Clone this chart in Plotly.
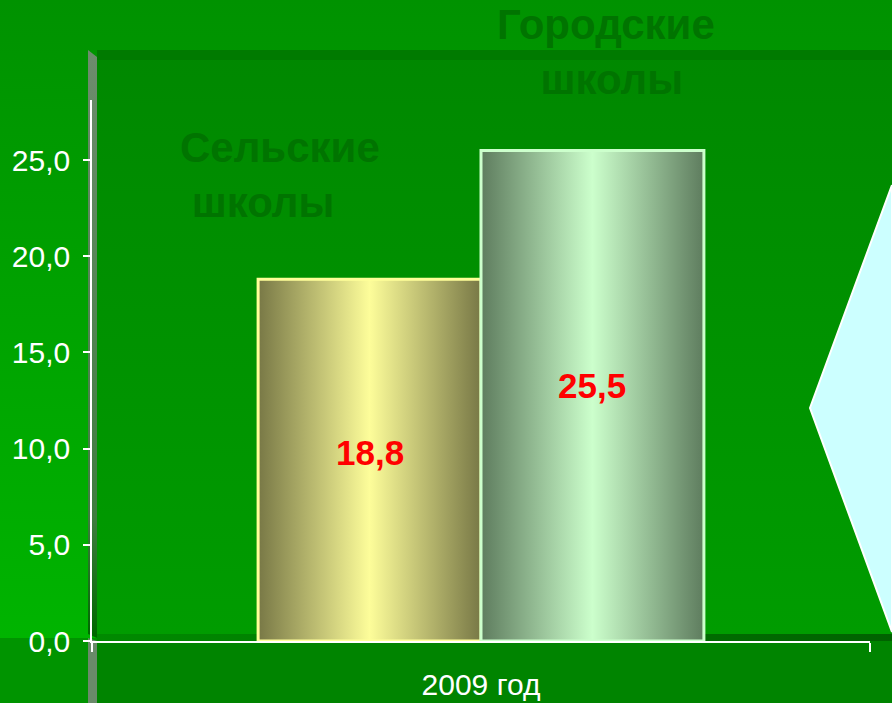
import plotly.graph_objects as go

# --- data ---
categories = ["Сельские школы", "Городские школы"]
values = [18.8, 25.5]
period = "2009 год"
y_ticks = [0, 5, 10, 15, 20, 25]

# --- styling ---
bar_edge = ["#787846", "#5e7c5e"]
bar_mid = ["#fdfd9a", "#ccffcc"]
bar_line = ["#ffff99", "#ccffcc"]
FONT = "Liberation Sans, Arial, sans-serif"

W, H = 892, 703
fig = go.Figure()


def deco(xs, ys, color=None, grad=None, line=None):
    # background pieces live on a pixel-sized axis pair (x, y)
    fig.add_trace(go.Scatter(
        x=xs, y=ys, xaxis="x", yaxis="y", mode="lines",
        fill="toself", fillcolor=color, fillgradient=grad,
        line=line or dict(width=0), hoverinfo="skip", showlegend=False,
    ))


# outer background
deco([0, W, W, 0, 0], [0, 0, 638, 638, 0],
     grad=dict(type="vertical", colorscale=[[0, "#009200"], [1, "#00b400"]], start=0, stop=638))
deco([0, W, W, 0, 0], [638, 638, H, H, 638], color="#009400")
# back wall
deco([97, W, W, 97, 97], [50, 50, 641, 641, 50],
     grad=dict(type="vertical", colorscale=[[0, "#008800"], [1, "#009c00"]], start=50, stop=634))
deco([97, W, W, 97, 97], [50, 50, 60, 60, 50], color="#007a00")
deco([97, W, W, 97, 97], [634, 634, 641, 641, 634],
     grad=dict(type="horizontal", colorscale=[[0, "#008a00"], [1, "#006200"]], start=97, stop=W))
# floor
deco([96, W, W, 96, 96], [641, 641, H, H, 641], color="#008400")
# left side wall
deco([88, 97, 97, 88, 88], [50, 57, 638, 634, 50],
     grad=dict(type="vertical", colorscale=[[0, "#6e8c6e"], [0.8, "#3f7c3f"], [1, "#006800"]], start=50, stop=634))
deco([88, 97, 97, 88, 88], [638, 641, H, H, 638], color="#6a8a6a")
# arrow shape on the right
deco([W, 810, W, W], [185, 408, 632, 185], color="#ccffff",
     line=dict(color="white", width=2))

# --- bars ---
gap = 0.427
w = (1 - gap) / len(values)
for i, (cat, v) in enumerate(zip(categories, values)):
    l = -(1 - gap) / 2 + i * w
    r = l + w
    fig.add_trace(go.Scatter(
        x=[l, l, r, r, l], y=[0, v, v, 0, 0], xaxis="x2", yaxis="y2",
        mode="lines", fill="toself",
        fillgradient=dict(type="horizontal", start=l, stop=r,
                          colorscale=[[0, bar_edge[i]], [0.5, bar_mid[i]], [1, bar_edge[i]]]),
        line=dict(color=bar_line[i], width=3), name=cat, showlegend=False,
    ))
    fig.add_annotation(
        x=(l + r) / 2, y=v * 0.52, xref="x2", yref="y2", showarrow=False,
        text=f"{v:.1f}".replace(".", ","),
        font=dict(family=FONT, size=35, color="#ff0000", weight="bold"),
    )

# category captions (left-aligned one, centered one, as on the slide)
cap_pos = [(280, 175, "left"), (606, 52, "center")]
for cat, (px, py, al) in zip(categories, cap_pos):
    first, second = cat.split(" ")
    fig.add_annotation(
        x=px / W, y=1 - py / H, xref="paper", yref="paper", showarrow=False,
        xanchor="center", yanchor="middle",
        text=f"{first}<br>&nbsp;{second}", align=al,
        font=dict(family=FONT, size=42, color="#007400", weight="bold"),
    )

fig.update_layout(
    width=W, height=H, margin=dict(l=0, r=0, t=0, b=0),
    paper_bgcolor="#009400", plot_bgcolor="rgba(0,0,0,0)",
    separators=", ", font=dict(family=FONT),
    xaxis=dict(domain=[0, 1], range=[0, W], visible=False, fixedrange=True, automargin=False),
    yaxis=dict(domain=[0, 1], range=[H, 0], visible=False, fixedrange=True, automargin=False),
    xaxis2=dict(
        domain=[92 / W, 870 / W], range=[-0.5, 0.5], anchor="y2", automargin=False,
        showline=True, linecolor="white", linewidth=1.5, showgrid=False, zeroline=False,
        tickvals=[0], ticktext=[period], ticks="",
        minor=dict(tickvals=[-0.5, 0.5], ticks="outside", ticklen=9, tickcolor="white", tickwidth=1.5),
        tickfont=dict(size=30, color="white"), ticklabelstandoff=16,
    ),
    yaxis2=dict(
        domain=[(H - 641) / H, (H - 100) / H], range=[0, 28.12], anchor="x2", automargin=False,
        showline=True, linecolor="white", linewidth=1.5, showgrid=False, zeroline=False,
        tickvals=y_ticks, tickformat=".1f", ticks="outside", ticklen=7,
        tickcolor="white", tickwidth=1.5,
        tickfont=dict(size=30, color="white"), ticklabelstandoff=7,
    ),
)

# page margin off so the figure fills the window
fix_page = (
    "document.body.style.margin='0';document.body.style.overflow='hidden';"
    "Plotly.relayout(document.getElementById('{plot_id}'), {width: 892, height: 703});"
)
fig.write_html("out.html", post_script=fix_page, config={"displayModeBar": False})
